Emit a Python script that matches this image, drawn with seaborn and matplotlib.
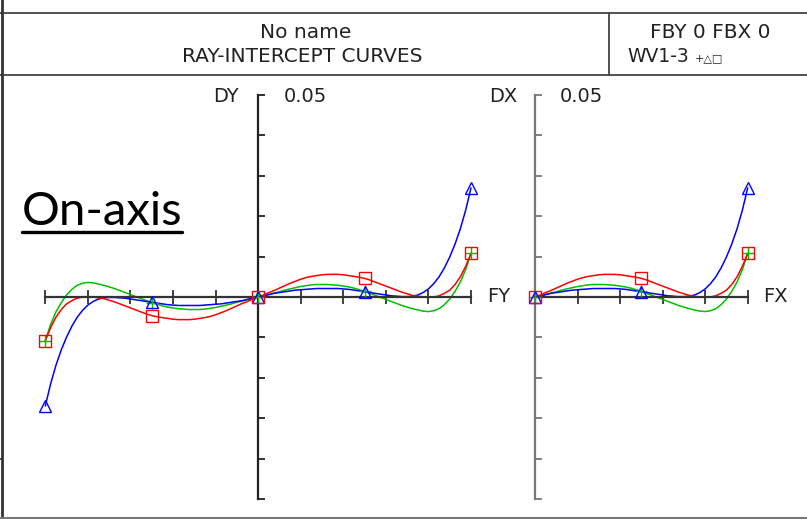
import numpy as np
import pandas as pd
import matplotlib
matplotlib.use("Agg")
import matplotlib.pyplot as plt
import seaborn as sns

# ---------------- data ----------------
# field positions, -1 .. 1 in steps of 0.025 (tangential), 0 .. 1 (sagittal)
FY = [round(-1 + 0.025 * i, 3) for i in range(81)]
FX = [round(0.025 * i, 3) for i in range(41)]

DY_blue = [-.0270, -.0215, -.0169, -.0131, -.0099, -.0072, -.0050, -.0033, -.0020, -.0011,
           -.0005, -.0002, -.0001, -.0001, -.0002, -.0003, -.0005, -.0007, -.0009, -.0011,
           -.0013, -.0015, -.0017, -.0019, -.0020, -.0021, -.0021, -.0021, -.0021, -.0021,
           -.0020, -.0019, -.0018, -.0017, -.0015, -.0013, -.0011, -.0009, -.0006, -.0003,
           0.0,
           .0003, .0006, .0009, .0011, .0013, .0015, .0017, .0018, .0019, .0020,
           .0021, .0021, .0021, .0021, .0021, .0020, .0019, .0017, .0015, .0013,
           .0011, .0009, .0007, .0005, .0003, .0002, .0001, .0001, .0002, .0005,
           .0011, .0020, .0033, .0050, .0072, .0099, .0131, .0169, .0215, .0270]
DY_red = [-.0108, -.0076, -.0050, -.0031, -.0017, -.0009, -.0003, .0000, .0001, .0000,
          -.0002, -.0004, -.0008, -.0012, -.0017, -.0022, -.0027, -.0032, -.0037, -.0042,
          -.0046, -.0049, -.0051, -.0053, -.0055, -.0056, -.0056, -.0056, -.0055, -.0053,
          -.0051, -.0048, -.0044, -.0039, -.0034, -.0028, -.0022, -.0016, -.0011, -.0005,
          0.0,
          .0005, .0011, .0016, .0022, .0028, .0034, .0039, .0044, .0048, .0051,
          .0053, .0055, .0056, .0056, .0056, .0055, .0053, .0051, .0049, .0046,
          .0042, .0037, .0032, .0027, .0022, .0017, .0012, .0008, .0004, .0002,
          .0000, -.0001, .0000, .0003, .0009, .0017, .0031, .0050, .0076, .0108]
DY_green = [-.0108, -.0068, -.0037, -.0014, .0005, .0019, .0029, .0034, .0036, .0035,
            .0032, .0029, .0025, .0021, .0016, .0011, .0006, .0001, -.0004, -.0009,
            -.0014, -.0018, -.0022, -.0025, -.0027, -.0029, -.0030, -.0031, -.0031, -.0031,
            -.0030, -.0028, -.0026, -.0023, -.0020, -.0017, -.0013, -.0010, -.0006, -.0003,
            0.0,
            .0003, .0006, .0010, .0013, .0017, .0020, .0023, .0026, .0028, .0030,
            .0031, .0031, .0031, .0030, .0029, .0027, .0025, .0022, .0018, .0014,
            .0009, .0004, -.0001, -.0006, -.0011, -.0016, -.0021, -.0025, -.0029, -.0032,
            -.0035, -.0036, -.0034, -.0029, -.0019, -.0005, .0014, .0037, .0068, .0108]

DX_blue = [0.0, .0003, .0006, .0009, .0011, .0013, .0015, .0017, .0018, .0019, .0020,
           .0021, .0021, .0021, .0021, .0021, .0020, .0019, .0017, .0015, .0013,
           .0011, .0009, .0007, .0005, .0003, .0002, .0001, .0001, .0002, .0005,
           .0011, .0020, .0033, .0050, .0072, .0099, .0131, .0169, .0215, .0270]
DX_red = [0.0, .0005, .0011, .0016, .0022, .0028, .0034, .0039, .0044, .0048, .0051,
          .0053, .0055, .0056, .0056, .0056, .0055, .0053, .0051, .0049, .0046,
          .0042, .0037, .0032, .0027, .0022, .0017, .0012, .0008, .0004, .0002,
          .0000, -.0001, .0000, .0003, .0009, .0017, .0031, .0050, .0076, .0108]
DX_green = [0.0, .0003, .0006, .0010, .0013, .0017, .0020, .0023, .0026, .0028, .0030,
            .0031, .0031, .0031, .0030, .0029, .0027, .0025, .0022, .0018, .0014,
            .0009, .0004, -.0001, -.0006, -.0011, -.0016, -.0021, -.0025, -.0029, -.0032,
            -.0035, -.0036, -.0034, -.0029, -.0019, -.0005, .0014, .0037, .0068, .0108]

marker_FY = [-1.0, -0.5, 0.0, 0.5, 1.0]
marker_FX = [0.0, 0.5, 1.0]

waves = ["WV1", "WV2", "WV3"]
wave_colors = {"WV1": "#00c000", "WV2": "#0000ff", "WV3": "#ff0000"}
wave_markers = {"WV1": "+", "WV2": "^", "WV3": "s"}

header_title = "No name"
header_sub = "RAY-INTERCEPT CURVES"
header_r1 = "FBY 0 FBX 0"
header_r2a = "WV1-3"
header_r2b = "+\u25b3\u25a1"
scale_label = "0.05"

# ---------------- figure ----------------
sns.set_style("white")
plt.rcParams["font.family"] = ["DejaVu Sans"]

W, H = 807, 519
fig = plt.figure(figsize=(W / 100, H / 100), dpi=100)
fig.patch.set_facecolor("white")

# overlay in pixel coordinates for frame / header
ov = fig.add_axes([0, 0, 1, 1], zorder=0)
ov.set_xlim(0, W)
ov.set_ylim(H, 0)
ov.axis("off")

frame_c = "#444444"
ov.plot([0, W], [13.3, 13.3], color=frame_c, lw=1.3)
ov.plot([0, W], [74.5, 74.5], color=frame_c, lw=1.3)
ov.plot([609.3, 609.3], [13.3, 74.5], color=frame_c, lw=1.3)
ov.plot([2, 2], [0, 517.5], color="#333333", lw=2.0)
ov.plot([0, W], [517.5, 517.5], color="#777777", lw=1.5)
ov.plot([0, 2], [459, 459], color="#333333", lw=1.2)

txt_c = "#222222"
hs = 14.5
ov.text(306, 33, header_title, ha="center", va="center", fontsize=hs, color=txt_c)
ov.text(302, 57, header_sub, ha="center", va="center", fontsize=hs, color=txt_c)
ov.text(710, 33, header_r1, ha="center", va="center", fontsize=hs, color=txt_c)
ov.text(689, 57, header_r2a, ha="right", va="center", fontsize=13.5, color=txt_c)
ov.text(695, 58, header_r2b, ha="left", va="center", fontsize=8, color=txt_c)

ls = 14
ov.text(226, 96, "DY", ha="center", va="center", fontsize=ls, color=txt_c)
ov.text(305, 96, scale_label, ha="center", va="center", fontsize=ls, color=txt_c)
ov.text(499, 296.5, "FY", ha="center", va="center", fontsize=ls, color=txt_c)
ov.text(503, 96, "DX", ha="center", va="center", fontsize=ls, color=txt_c)
ov.text(581, 96, scale_label, ha="center", va="center", fontsize=ls, color=txt_c)
ov.text(775, 296.5, "FX", ha="center", va="center", fontsize=ls, color=txt_c)

ov.text(22, 225, "On-axis", ha="left", va="baseline", fontsize=34,
        family=["Lato", "DejaVu Sans"], color="black")
ov.plot([22, 182], [232, 232], color="black", lw=2.4)

# ---------------- plot axes ----------------
y_top, y_bot = 95.0, 499.0


def make_axes(x0, x1, xmin, xmax, vcolor, hcolor):
    ax = fig.add_axes([x0 / W, (H - y_bot) / H, (x1 - x0) / W, (y_bot - y_top) / H],
                      zorder=2)
    ax.set_facecolor("none")
    ax.set_xlim(xmin, xmax)
    ax.set_ylim(-0.05, 0.05)
    for s in ["top", "right"]:
        ax.spines[s].set_visible(False)
    ax.spines["left"].set_position(("data", 0))
    ax.spines["bottom"].set_position(("data", 0))
    ax.spines["left"].set_color(vcolor)
    ax.spines["bottom"].set_color(hcolor)
    ax.spines["left"].set_linewidth(1.6)
    ax.spines["bottom"].set_linewidth(1.6)
    ax.set_xticks(np.arange(xmin, xmax + 0.01, 0.2))
    ax.set_yticks(np.arange(-0.05, 0.0501, 0.01))
    ax.tick_params(axis="x", bottom=True, direction="inout", length=10, width=1.3,
                   color=hcolor, labelbottom=False)
    ax.tick_params(axis="y", left=True, direction="in", length=5, width=1.3,
                   color=vcolor, labelleft=False)
    return ax


axL = make_axes(45.3, 471.0, -1.0, 1.0, "#222222", "#333333")
axL.set_yticks([0.05], minor=True)
axL.tick_params(axis="y", which="minor", left=True, direction="inout", length=10,
                width=1.3, color="#222222")
axR = make_axes(535.0, 747.7, 0.0, 1.0, "#777777", "#333333")


def draw(ax, xs, series, mx, xname, yname):
    rows = []
    for w in waves:
        for x, y in zip(xs, series[w]):
            rows.append({xname: x, yname: y, "wave": w})
    df = pd.DataFrame(rows)
    sns.lineplot(data=df, x=xname, y=yname, hue="wave", palette=wave_colors,
                 hue_order=waves, estimator=None, sort=False, legend=False,
                 lw=1.1, ax=ax, clip_on=False)
    for w in waves:
        d = df[(df["wave"] == w) & (df[xname].isin(mx))]
        sns.lineplot(data=d, x=xname, y=yname, estimator=None, sort=False,
                     linestyle="none", marker=wave_markers[w],
                     markersize=9 if w != "WV3" else 8.5,
                     markerfacecolor="none", markeredgecolor=wave_colors[w],
                     markeredgewidth=1.0, color=wave_colors[w], legend=False,
                     ax=ax, clip_on=False, zorder=5)
    ax.set_xlabel("")
    ax.set_ylabel("")


draw(axL, FY, {"WV1": DY_green, "WV2": DY_blue, "WV3": DY_red}, marker_FY, "FY", "DY")
draw(axR, FX, {"WV1": DX_green, "WV2": DX_blue, "WV3": DX_red}, marker_FX, "FX", "DX")

fig.savefig("out.png", dpi=100, facecolor="white")
